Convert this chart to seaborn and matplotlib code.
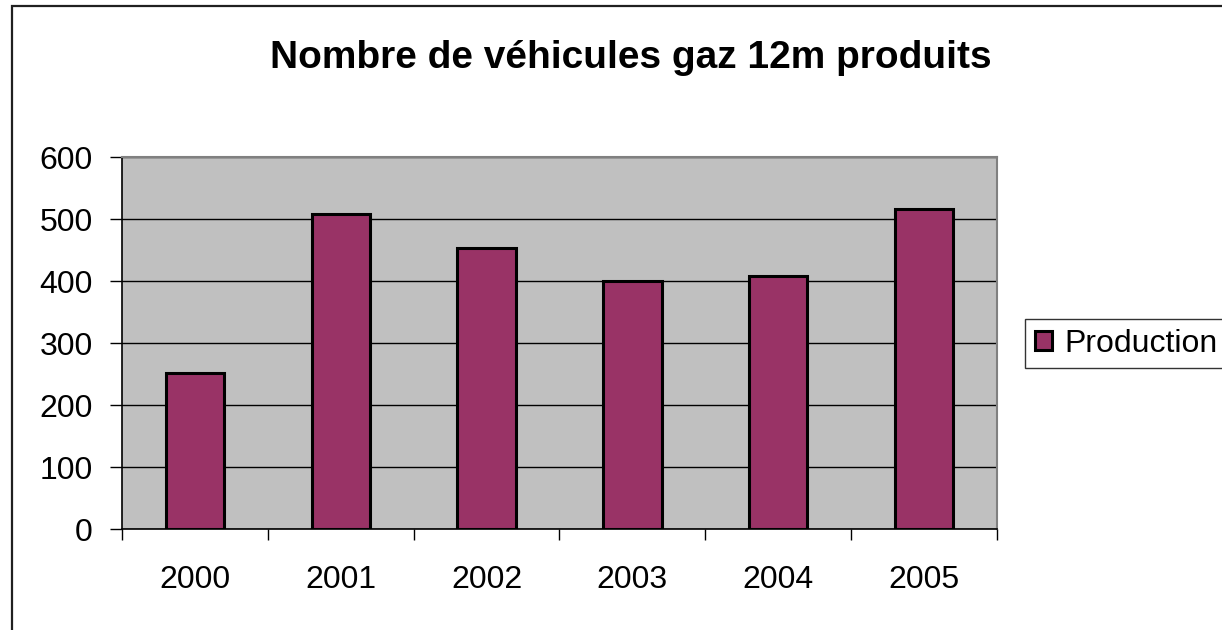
import matplotlib
matplotlib.use("Agg")
import matplotlib.pyplot as plt
import seaborn as sns
import pandas as pd
from matplotlib.patches import Rectangle
from matplotlib.ticker import FixedLocator

years = ["2000", "2001", "2002", "2003", "2004", "2005"]
production = [252, 508, 454, 400, 408, 516]
title = "Nombre de véhicules gaz 12m produits"
series_name = "Production"
yticks = [0, 100, 200, 300, 400, 500, 600]

df = pd.DataFrame({"year": years, "value": production})

sns.set_style("white")
plt.rcParams["font.family"] = ["Liberation Sans", "DejaVu Sans"]
plt.rcParams["text.color"] = "black"
plt.rcParams["xtick.color"] = "black"
plt.rcParams["ytick.color"] = "black"
plt.rcParams["axes.labelcolor"] = "black"
plt.rcParams["xtick.bottom"] = True
plt.rcParams["ytick.left"] = True

fig = plt.figure(figsize=(12.22, 6.30), dpi=100)
ax = fig.add_axes([122/1222, 1-529.3/630, (997-122)/1222, (529.3-157.3)/630])
ax.set_facecolor("#C0C0C0")

sns.barplot(data=df, x="year", y="value", color="#993366", width=0.4,
            edgecolor="black", linewidth=2.2, saturation=1, ax=ax,
            label=series_name, zorder=3)

ax.set_xlim(-0.5, 5.5)
ax.set_ylim(0, 600)
ax.set_yticks(yticks)
ax.set_yticklabels([str(v) for v in yticks], fontsize=23)
ax.yaxis.grid(True, color="black", linewidth=1.0, zorder=0)
ax.set_axisbelow(True)
ax.set_xlabel("")
ax.set_ylabel("")

# category boundary ticks on x
ax.xaxis.set_minor_locator(FixedLocator([i - 0.5 for i in range(len(years) + 1)]))
ax.tick_params(axis="x", which="major", bottom=True, length=0, labelsize=23, pad=26)
ax.tick_params(axis="x", which="minor", bottom=True, length=8, width=1,
               color="black", direction="out")
ax.tick_params(axis="y", which="major", left=True, length=9, width=1, color="black",
               direction="out", labelsize=23, pad=12)

for side in ["top", "right"]:
    ax.spines[side].set_color("#808080")
    ax.spines[side].set_linewidth(1.5)
for side in ["left", "bottom"]:
    ax.spines[side].set_color("black")
    ax.spines[side].set_linewidth(1.2)

fig.text(631/1222, 1-68.5/630, title, ha="center", va="baseline",
         fontsize=28, fontweight="bold")

leg = ax.legend(loc="center left", bbox_to_anchor=(1025/1222, 1-343.7/630),
                bbox_transform=fig.transFigure, fontsize=23, frameon=True,
                fancybox=False, edgecolor="black", handlelength=0.56,
                handleheight=0.56, handletextpad=0.38, borderpad=0.3,
                borderaxespad=0)
leg.get_frame().set_linewidth(1.0)

# outer chart border
fig.patches.append(Rectangle((12/1222, -0.1), 1.2, 1 - 6.5/630 + 0.1,
                             transform=fig.transFigure, fill=False,
                             edgecolor="#202020", linewidth=1.6))

fig.savefig("out.png", dpi=100, facecolor="white")
